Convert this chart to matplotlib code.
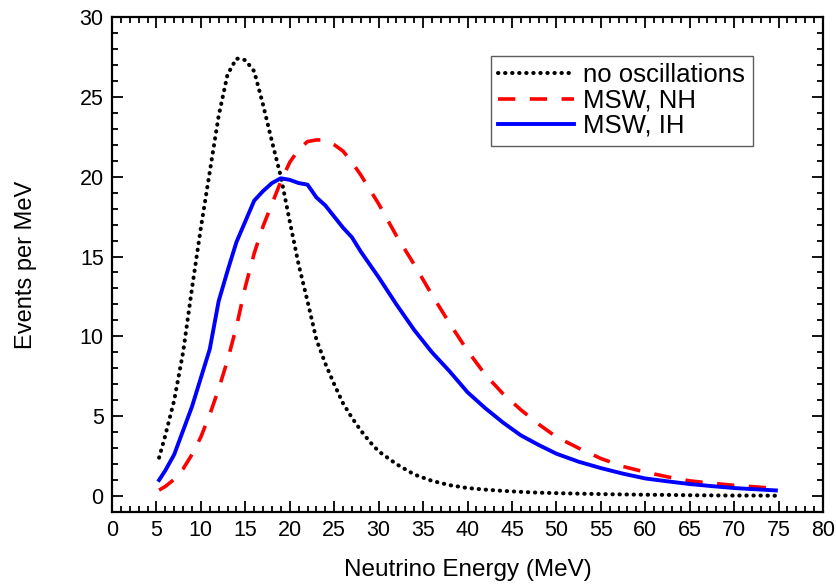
import matplotlib
matplotlib.use('Agg')
import matplotlib.pyplot as plt
from matplotlib.ticker import MultipleLocator

plt.rcParams['font.family'] = ['Liberation Sans', 'DejaVu Sans']

# neutrino energy grid (MeV)
energy = [5.3, 6, 7, 8, 9, 10, 11, 12, 13, 14, 15, 16, 17, 18, 19, 20, 21, 22, 23, 24,
          25, 26, 27, 28, 29, 30, 32, 34, 36, 38, 40, 42, 44, 46, 48, 50, 52.5, 55,
          57.5, 60, 62.5, 65, 67.5, 70, 72.5, 74.7]

no_osc = [2.4, 3.8, 6.0, 9.0, 13.0, 16.8, 20.3, 23.8, 26.4, 27.4, 27.3, 26.6, 24.5, 22.2,
          20.0, 17.2, 14.5, 12.2, 9.8, 8.3, 7.0, 5.8, 4.9, 4.1, 3.4, 2.8, 2.0, 1.35, 0.95,
          0.68, 0.5, 0.4, 0.32, 0.26, 0.21, 0.18, 0.15, 0.12, 0.1, 0.08, 0.07, 0.05, 0.04,
          0.03, 0.03, 0.02]

msw_nh = [0.37, 0.6, 1.05, 1.7, 2.6, 3.7, 5.1, 6.7, 8.5, 10.6, 13.1, 15.2, 16.9, 18.3,
          19.7, 20.9, 21.7, 22.2, 22.3, 22.3, 22.0, 21.6, 20.9, 20.1, 19.2, 18.3, 16.3,
          14.5, 12.6, 10.8, 9.1, 7.6, 6.4, 5.4, 4.5, 3.7, 3.0, 2.35, 1.85, 1.5, 1.2, 0.95,
          0.8, 0.67, 0.57, 0.47]

msw_ih = [1.0, 1.6, 2.6, 4.1, 5.6, 7.4, 9.2, 12.2, 14.1, 15.9, 17.2, 18.5, 19.1, 19.6,
          19.9, 19.8, 19.6, 19.5, 18.7, 18.2, 17.5, 16.8, 16.2, 15.3, 14.5, 13.7, 12.0,
          10.4, 9.0, 7.8, 6.5, 5.5, 4.6, 3.8, 3.2, 2.65, 2.15, 1.75, 1.4, 1.1, 0.92, 0.75,
          0.62, 0.5, 0.42, 0.35]

fig = plt.figure(figsize=(8.37, 5.84), dpi=100)
ax = fig.add_axes([0.1338, 0.1233, 0.8495, 0.8476])

ax.plot(energy, no_osc, color='black', lw=2.9, linestyle=(0, (0.1, 1.65)),
        dash_capstyle='round', label='no oscillations')
ax.plot(energy, msw_nh, color='#ff0000', lw=2.6, linestyle=(0, (4.8, 4.0)),
        label='MSW, NH')
ax.plot(energy, msw_ih, color='#0000ff', lw=2.8, label='MSW, IH')

ax.set_xlim(0, 80)
ax.set_ylim(-1, 30)
ax.xaxis.set_major_locator(MultipleLocator(5))
ax.xaxis.set_minor_locator(MultipleLocator(1))
ax.yaxis.set_major_locator(MultipleLocator(5))
ax.yaxis.set_minor_locator(MultipleLocator(1))
ax.tick_params(which='both', direction='in', top=True, right=True, width=1.3,
               labelsize=15.5)
ax.tick_params(which='major', length=8, pad=6)
ax.tick_params(which='minor', length=4.5)
for s in ax.spines.values():
    s.set_linewidth(1.6)

ax.set_xlabel('Neutrino Energy (MeV)', fontsize=17.5)
ax.set_ylabel('Events per MeV', fontsize=17)
ax.xaxis.set_label_coords(0.5, -0.095)
ax.yaxis.set_label_coords(-0.105, 0.5)

leg = ax.legend(loc='upper right', bbox_to_anchor=(0.901, 0.922), borderaxespad=0,
                fontsize=18.5, frameon=True, fancybox=False, edgecolor='#333333',
                handlelength=2.95, handletextpad=0.35, labelspacing=0.05,
                borderpad=0.3)
leg.get_frame().set_linewidth(1.0)

fig.savefig('out.png', dpi=100)
